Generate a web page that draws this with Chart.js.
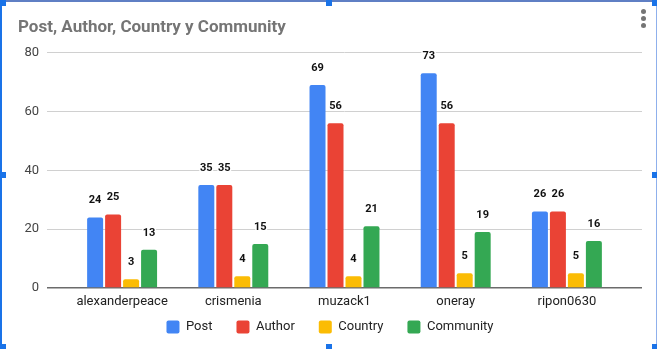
<!DOCTYPE html>
<html><head><meta charset="utf-8">
<script src="https://cdn.jsdelivr.net/npm/chart.js@4/dist/chart.umd.min.js"></script>
<style>
html,body{margin:0;padding:0;background:#fff;overflow:hidden}
#wrap{position:relative;width:657px;height:349px;background:#fff}
canvas{position:absolute;left:0;top:0}
.hd{position:absolute;background:#1a73e8;width:6px;height:6px}
.dot{position:absolute;width:5px;height:5px;border-radius:50%;background:#757575}
</style></head>
<body>
<div id="wrap">
<canvas id="c" width="657" height="349"></canvas>
<div style="position:absolute;left:0;top:0;width:657px;height:2px;background:#5f7fc4"></div>
<div style="position:absolute;left:0;top:0;width:2px;height:349px;background:#1a73e8"></div>
<div style="position:absolute;left:656px;top:0;width:1px;height:349px;background:#8fb0ec"></div>
<div class="hd" style="left:0;top:0"></div>
<div class="hd" style="left:326px;top:0"></div>
<div class="hd" style="left:652px;top:0"></div>
<div class="hd" style="left:0;top:172px"></div>
<div class="hd" style="left:652px;top:172px"></div>
<div class="hd" style="left:0;top:344px"></div>
<div class="hd" style="left:326px;top:344px"></div>
<div class="hd" style="left:652px;top:344px"></div>
<div class="dot" style="left:641px;top:9px"></div>
<div class="dot" style="left:641px;top:16px"></div>
<div class="dot" style="left:641px;top:23px"></div>
</div>
<script>
const categories = ['alexanderpeace', 'crismenia', 'muzack1', 'oneray', 'ripon0630'];
const postValues = [24, 35, 69, 73, 26];
const authorValues = [25, 35, 56, 56, 26];
const countryValues = [3, 4, 4, 5, 5];
const communityValues = [13, 15, 21, 19, 16];
const yTicks = [0, 20, 40, 60, 80];
const seriesNames = ['Post', 'Author', 'Country', 'Community'];
const seriesColors = ['#4285F4', '#EA4335', '#FBBC04', '#34A853'];
const titleText = 'Post, Author, Country y Community';

const FONT = 'Roboto, Arial, sans-serif';

const valueLabels = {
  id: 'valueLabels',
  afterDatasetsDraw(chart) {
    const ctx = chart.ctx;
    ctx.save();
    ctx.font = 'bold 11px ' + FONT;
    ctx.textAlign = 'center';
    ctx.textBaseline = 'middle';
    ctx.lineWidth = 3;
    ctx.lineJoin = 'round';
    ctx.strokeStyle = '#ffffff';
    ctx.fillStyle = '#111111';
    chart.data.datasets.forEach((ds, i) => {
      chart.getDatasetMeta(i).data.forEach((bar, j) => {
        const t = String(ds.data[j]);
        const y = bar.y - 17;
        ctx.strokeText(t, bar.x, y);
        ctx.fillText(t, bar.x, y);
      });
    });
    ctx.restore();
  }
};

// category band sits inside the gridline span (as in the original);
// x-axis label box is allowed to extend into the legend's top padding
const insetX = {
  id: 'insetX',
  afterLayout(chart) {
    const x = chart.scales.x;
    x.left += 19.5;
    x.right -= 19.5;
    x.width = x.right - x.left;
    x.bottom = x.top + 28;
    x.height = 28;
    x.configure();
  }
};

const seriesData = [postValues, authorValues, countryValues, communityValues];
const datasets = seriesNames.map((name, i) => ({
  label: name,
  data: seriesData[i],
  backgroundColor: seriesColors[i],
  borderWidth: 0,
  borderRadius: 2,
  categoryPercentage: 0.647,
  barPercentage: 0.889
}));

new Chart(document.getElementById('c'), {
  type: 'bar',
  data: { labels: categories, datasets },
  options: {
    responsive: false,
    animation: false,
    devicePixelRatio: 1,
    layout: { padding: { left: 18, right: 15, top: 8, bottom: 5.5 } },
    plugins: {
      title: {
        display: true,
        text: titleText,
        align: 'start',
        color: '#757575',
        font: { family: FONT, size: 17, weight: 'bold' },
        padding: { top: 10, bottom: 14.3 }
      },
      legend: {
        position: 'bottom',
        labels: {
          boxWidth: 13,
          boxHeight: 13,
          useBorderRadius: true,
          borderRadius: 2,
          color: '#222222',
          font: { family: FONT, size: 13 },
          padding: 24
        }
      },
      tooltip: { enabled: false }
    },
    scales: {
      x: {
        grid: { display: false, drawTicks: false },
        border: { display: false },
        afterFit: (scale) => { scale.height = 8.5; },
        ticks: { color: '#222222', font: { family: FONT, size: 13 }, padding: 6 }
      },
      y: {
        min: 0, max: 80,
        afterBuildTicks: (scale) => { scale.ticks = yTicks.map(v => ({ value: v })); },
        afterFit: (scale) => { scale.width = 29; },
        border: { display: false },
        grid: {
          drawTicks: false,
          color: (c) => c.tick && c.tick.value === 0 ? '#6b6b6b' : '#d0d0d0',
          lineWidth: (c) => c.tick && c.tick.value === 0 ? 1.5 : 1
        },
        ticks: { color: '#444444', font: { family: FONT, size: 13 }, padding: 8 }
      }
    }
  },
  plugins: [valueLabels, insetX]
});
</script>
</body></html>
